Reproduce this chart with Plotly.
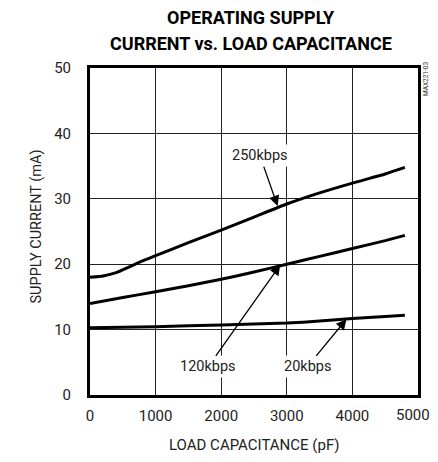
import plotly.graph_objects as go

# Data
x_250 = [0, 200, 400, 600, 800, 1000, 1500, 2000, 2500, 3000, 3500, 4000, 4500, 4800]
y_250 = [18.0, 18.2, 18.7, 19.6, 20.5, 21.3, 23.3, 25.2, 27.2, 29.2, 30.9, 32.4, 33.8, 34.8]
x_120 = [0, 500, 1000, 1500, 2000, 2500, 3000, 3500, 4000, 4500, 4800]
y_120 = [14.0, 14.9, 15.8, 16.7, 17.7, 18.8, 20.0, 21.2, 22.4, 23.6, 24.4]
x_20 = [0, 1000, 2000, 3000, 3500, 4000, 4500, 4800]
y_20 = [10.3, 10.45, 10.7, 11.0, 11.3, 11.7, 12.0, 12.2]

labels = ["250kbps", "120kbps", "20kbps"]
label_pos = [(2590, 36.6), (1800, 4.3), (3310, 4.3)]
arrow_heads = [(2860, 28.9), (2900, 19.9), (3910, 11.6)]

x_ticks = [0, 1000, 2000, 3000, 4000, 5000]
y_ticks = [0, 10, 20, 30, 40, 50]

title_lines = ["OPERATING SUPPLY", "CURRENT vs. LOAD CAPACITANCE"]

FONT = "Roboto, Liberation Sans, sans-serif"
TXT = "#222"
TICK_SIZE = 15

fig = go.Figure()
for xs, ys in [(x_250, y_250), (x_120, y_120), (x_20, y_20)]:
    fig.add_trace(go.Scatter(x=xs, y=ys, mode="lines",
                             line=dict(color="black", width=3, shape="spline", smoothing=0.5),
                             showlegend=False, hoverinfo="skip"))

for lab, (tx, ty), (hx, hy) in zip(labels, label_pos, arrow_heads):
    fig.add_annotation(x=hx, y=hy, ax=tx, ay=ty, axref="x", ayref="y", xref="x", yref="y",
                       text=lab, showarrow=True, arrowhead=2, arrowsize=1.6, arrowwidth=1.3,
                       arrowcolor="black", bgcolor="white", borderpad=2, standoff=0,
                       font=dict(family=FONT, size=14.5, color=TXT))

# last x tick label, nudged inward as in the original
fig.add_annotation(x=x_ticks[-1], y=0, xref="x", yref="paper", xanchor="center", yanchor="middle",
                   xshift=-5, yshift=-20, showarrow=False, text=str(x_ticks[-1]),
                   font=dict(family=FONT, size=TICK_SIZE, color=TXT))

# side code label
fig.add_annotation(x=1.0, y=1.0, xref="paper", yref="paper", xanchor="center", yanchor="middle",
                   xshift=8, yshift=-11, text="MAX221-03", textangle=-90, showarrow=False,
                   font=dict(family=FONT, size=6.5, color="#333"))

# title (two lines)
for i, line in enumerate(title_lines):
    fig.add_annotation(x=0.49, y=1.0, xref="paper", yref="paper", xanchor="center", yanchor="middle",
                       yshift=60 - 9 - 26 * i, showarrow=False, text="<b>%s</b>" % line,
                       font=dict(family=FONT, size=18, color="black"))
# axis titles
fig.add_annotation(x=0.5, y=0.0, xref="paper", yref="paper", xanchor="center", yanchor="middle",
                   yshift=-50, showarrow=False, text="LOAD CAPACITANCE (pF)",
                   font=dict(family=FONT, size=15, color=TXT))
fig.add_annotation(x=0.0, y=0.5, xref="paper", yref="paper", xanchor="center", yanchor="middle",
                   xshift=-54, yshift=5, showarrow=False, text="SUPPLY CURRENT (mA)", textangle=-90,
                   font=dict(family=FONT, size=14.5, color=TXT))

fig.update_layout(
    width=430, height=446,
    margin=dict(l=82, r=20, t=60, b=59),
    paper_bgcolor="white", plot_bgcolor="white",
    font=dict(family=FONT, color=TXT),
)
fig.update_xaxes(range=[0, 5000], tickvals=x_ticks,
                 ticktext=[str(v) for v in x_ticks[:-1]] + [""],
                 showgrid=True, gridcolor="#222", gridwidth=1, zeroline=False, automargin=False,
                 showline=True, linecolor="black", linewidth=3, mirror=True, ticks="",
                 ticklabelstandoff=5,
                 tickfont=dict(family=FONT, size=TICK_SIZE, color=TXT))
fig.update_yaxes(range=[0, 50], tickvals=y_ticks, ticktext=[str(v) for v in y_ticks],
                 showgrid=True, gridcolor="#222", gridwidth=1, zeroline=False, automargin=False,
                 showline=True, linecolor="black", linewidth=3, mirror=True, ticks="",
                 tickfont=dict(family=FONT, size=TICK_SIZE, color=TXT), ticklabelstandoff=13)

fig.write_html("out.html")
